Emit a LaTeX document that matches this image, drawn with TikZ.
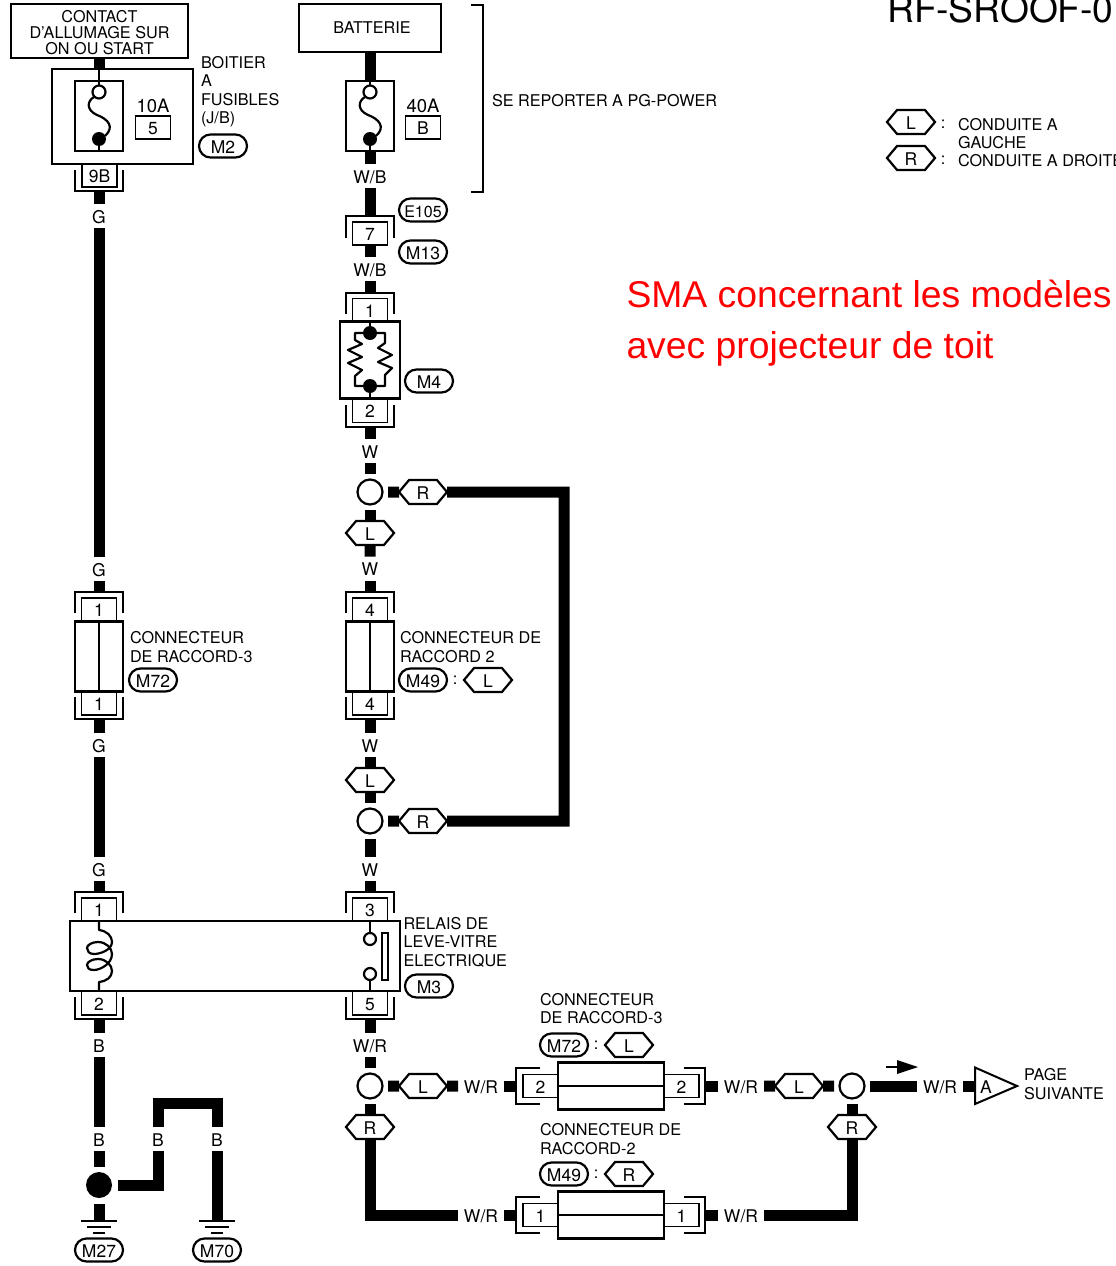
\documentclass[tikz,border=0pt]{standalone}
\usepackage{fontspec}
\setmainfont{TeX Gyre Heros}
\newfontfamily\redfont{Liberation Sans}
\usetikzlibrary{shapes.misc,shapes.symbols,shapes.geometric}
\newcommand{\lblfont}{\fontsize{16.2}{18.4}\selectfont}
\newcommand{\tagfont}{\fontsize{17.5}{18.4}\selectfont}
\tikzset{
  x=1pt,y=-1pt,
  every node/.style={font=\lblfont,inner sep=0pt,outer sep=0pt},
  wire/.style={line width=11pt,line cap=butt,line join=miter},
  thin wire/.style={line width=2.2pt,line join=round},
  outline/.style={line width=2pt,line join=miter},
  tagtext/.style={font=\tagfont,text height=14.2pt,text depth=0pt},
  wlabel/.style={tagtext,minimum width=46pt,minimum height=24pt},
  note/.style={align=left,anchor=west},
  pin/.style={tagtext,draw,line width=1.9pt,minimum width=35pt},
  box/.style={draw,line width=2.6pt,align=center},
  pill/.style={tagtext,rounded rectangle,draw,line width=2.2pt,minimum width=48pt,minimum height=23pt},
  hex/.style={tagtext,signal,signal to=east and west,signal pointer angle=100,draw,line width=2.2pt,minimum width=48pt,minimum height=24pt},
  splice/.style={circle,draw,line width=2.2pt,minimum size=25pt,outer sep=5.5pt},
  joint/.style={circle,fill=black,minimum size=14pt},
  term/.style={circle,draw,line width=2.2pt,fill=white,minimum size=13pt},
  redtext/.style={font=\redfont\fontsize{37.3}{51}\selectfont,text=red,anchor=base west},
}
% connector above a box whose top edge is at #3
\newcommand{\conntop}[4]{%
  \node[pin,minimum height=23pt] (#1) at (#2,#3-11.5) {#4};
  \draw[outline] (#2-24,#3-8) -- (#2-24,#3-29) -- (#2+24,#3-29) -- (#2+24,#3-8);
  \coordinate (#1-o) at (#2,#3-29);}
% connector below a box whose bottom edge is at #3
\newcommand{\connbot}[4]{%
  \node[pin,minimum height=24pt] (#1) at (#2,#3+12) {#4};
  \draw[outline] (#2-24,#3+6) -- (#2-24,#3+28) -- (#2+24,#3+28) -- (#2+24,#3+6);
  \coordinate (#1-o) at (#2,#3+28);}
% horizontal connector, left and right of a box
\newcommand{\connleft}[4]{%
  \node[pin,minimum height=23pt] (#1) at (#2-17.5,#3) {#4};
  \draw[outline] (#2-18,#3-18) -- (#2-42,#3-18) -- (#2-42,#3+18) -- (#2-18,#3+18);
  \coordinate (#1-o) at (#2-42,#3);}
\newcommand{\connright}[4]{%
  \node[pin,minimum height=23pt] (#1) at (#2+17.5,#3) {#4};
  \draw[outline] (#2+20,#3-18) -- (#2+41,#3-18) -- (#2+41,#3+18) -- (#2+20,#3+18);
  \coordinate (#1-o) at (#2+41,#3);}
% fuse element
\newcommand{\fuse}[2]{%
  \node[draw,line width=2.2pt,minimum width=48pt,minimum height=70pt] (#1) at (#2,116) {};
  \node[joint] (#1-d) at (#2,139) {};
  \draw[thin wire] (#1-d) -- (#1.south);
  \draw[thin wire] (#2-5,97) .. controls (#2-12,101) and (#2-13,110) .. (#2-2,115)
     .. controls (#2+9,119) and (#2+16,127) .. (#2+6,136);
  \node[term] (#1-o) at (#2,92) {};}
% ground symbol
\newcommand{\earth}[3]{%
  \coordinate (#1) at (#2,#3);
  \draw[outline] (#2-18,#3) -- (#2+18,#3) (#2-12,#3+6) -- (#2+12,#3+6) (#2-6,#3+11.5) -- (#2+6,#3+11.5);}
\begin{document}
\begin{tikzpicture}
\useasboundingbox (0,0) rectangle (1116,1266);
\clip (0,0) rectangle (1116,1266);

% ---------- left column ----------
\node[box,minimum width=177pt,minimum height=54pt] (contact) at (99.5,31) {};
\node[align=center,font=\fontsize{16.2}{16}\selectfont] (contacttxt) at (99.5,33) {CONTACT\\D'ALLUMAGE SUR\\ON OU START};
\node[draw,line width=2.6pt,minimum width=141pt,minimum height=95pt] (fb) at (122.5,116.5) {};
\draw[wire] (contact) -- (fb.north -| contact);
\fuse{f1}{99}
\draw[thin wire] (fb.north -| f1) -- (f1-o);
\node[tagtext,font=\fontsize{18.5}{20}\selectfont] (amp1) at (153,105) {10A};
\node[pin,minimum height=23pt] (fnum1) at (153,127.5) {5};
\node[note] (jb) at (201,91.5) {BOITIER\\A\\FUSIBLES\\(J/B)};
\node[pill] (m2) at (223,146) {M2};
\node[pin,minimum height=23pt] (p9b) at (99.5,175.5) {9B};
\draw[outline] (75,170) -- (75,191) -- (123,191) -- (123,170);
\coordinate (p9b-o) at (99,191);
\node[wlabel] (g1) at (99,216) {G};
\node[wlabel] (g2) at (99,569) {G};
\draw[wire] (p9b-o) -- (g1);
\draw[wire] (g1) -- (g2);

\node[draw,line width=2.2pt,minimum width=48pt,minimum height=70pt] (c1) at (99,656.5) {};
\draw[thin wire] (c1.north) -- (c1.south);
\conntop{c1t}{99}{621}{1}
\connbot{c1b}{99}{691}{1}
\draw[wire] (g2) -- (c1t-o);
\node[note] (c1txt) at (130,647) {CONNECTEUR\\DE RACCORD-3};
\node[pill] (m72a) at (153,680) {M72};
\node[wlabel] (g3) at (99,745) {G};
\node[wlabel] (g4) at (99,869) {G};
\draw[wire] (c1b-o) -- (g3);
\draw[wire] (g3) -- (g4);

% ---------- relay ----------
\node[draw,line width=2.6pt,minimum width=330pt,minimum height=70pt] (relay) at (235,956) {};
\conntop{r1}{99}{921}{1}
\connbot{r2}{99}{991}{2}
\conntop{r3}{370}{921}{3}
\connbot{r5}{370}{991}{5}
\draw[wire] (g4) -- (r1-o);
\draw[thin wire] (99,921) -- (99,930)
  .. controls (107,931) and (112,936) .. (112,942)
  .. controls (112,950) and (100,954) .. (94,954)
  .. controls (89,954) and (87,951) .. (87,948)
  .. controls (87,945) and (92,942) .. (98,942)
  .. controls (106,942) and (112,948) .. (112,954)
  .. controls (112,964) and (100,970) .. (94,970)
  .. controls (89,970) and (87,968) .. (87,965)
  .. controls (87,962) and (92,959) .. (98,959)
  .. controls (106,959) and (112,965) .. (112,971)
  .. controls (112,977) and (107,981) .. (99,982) -- (99,991);
\node[term,minimum size=12pt] (sw1) at (370,939) {};
\node[term,minimum size=12pt] (sw2) at (370,974) {};
\draw[thin wire] (r3) -- (sw1);
\draw[thin wire] (sw2) -- (r5);
\node[draw,line width=2.2pt,minimum width=6pt,minimum height=47pt] (blade) at (385,956.5) {};
\node[note] (rtxt) at (403.5,942) {RELAIS DE\\LEVE-VITRE\\ELECTRIQUE};
\node[pill] (m3) at (429,986) {M3};

% ---------- ground ----------
\node[wlabel] (b1) at (99,1045) {B};
\node[wlabel] (b2) at (99,1139) {B};
\node[wlabel] (b3) at (158,1139) {B};
\node[wlabel] (b4) at (217,1139) {B};
\node[circle,fill=black,minimum size=26pt,outer sep=5.5pt] (gj) at (99,1185) {};
\earth{e1}{99}{1221}
\earth{e2}{217}{1221}
\node[pill] (m27) at (99,1250) {M27};
\node[pill] (m70) at (217,1250) {M70};
\draw[wire] (r2-o) -- (b1);
\draw[wire] (b1) -- (b2);
\draw[wire] (b2) -- (gj);
\draw[wire] (gj) -- (e1);
\draw[wire] (gj.east) -- (b3 |- gj) -- (b3);
\draw[wire] (b3) -- (158,1103) -- (217,1103) -- (b4);
\draw[wire] (b4) -- (e2);

% ---------- right column ----------
\node[box,minimum width=142pt,minimum height=48pt] (batt) at (370,28) {\hspace*{4pt}BATTERIE};
\fuse{f2}{370}
\draw[wire] (batt) -- (f2);
\draw[thin wire] (f2.north) -- (f2-o);
\node[tagtext,font=\fontsize{18.5}{20}\selectfont] (amp2) at (423,105) {40A};
\node[pin,minimum height=23pt] (fnum2) at (423,127.5) {B};
\draw[outline] (471,5) -- (483,5) -- (483,192) -- (471,192);
\node[note] (pgtxt) at (492,100.5) {SE REPORTER A PG-POWER};
\node[wlabel] (wb1) at (370,176) {W/B};
\draw[wire] (f2) -- (wb1);

\node[pin,minimum height=23pt] (p7) at (370,233.5) {7};
\draw[outline] (346,238) -- (346,216) -- (394,216) -- (394,238);
\coordinate (p7-o) at (370,216);
\node[pill,font=\fontsize{16}{18}\selectfont] (e105) at (423,210) {E105};
\node[pill] (m13) at (423,252) {M13};
\node[wlabel] (wb2) at (370,269) {W/B};
\draw[wire] (wb1) -- (p7-o);
\draw[wire] (p7) -- (wb2);

% resistor block
\node[draw,line width=2.2pt,minimum width=60pt,minimum height=77pt] (res) at (370,360) {};
\conntop{m4t}{370}{321.5}{1}
\connbot{m4b}{370}{398.5}{2}
\draw[wire] (wb2) -- (m4t-o);
\node[joint] (rd1) at (370,333) {};
\node[joint] (rd2) at (370,386) {};
\draw[thin wire] (res.north) -- (rd1);
\draw[thin wire] (rd2) -- (res.south);
\draw[thin wire] (rd1) -- (355,333) -- (355,340) -- (362,344) -- (348,350) -- (362,357) -- (348,363) -- (362,370) -- (355,376) -- (355,386) -- (rd2);
\draw[thin wire] (rd1) -- (385,333) -- (385,343) -- (378,348) -- (392,355) -- (378,362) -- (392,368) -- (385,375) -- (385,386) -- (rd2);
\node[pill] (m4) at (429,381) {M4};

\node[wlabel] (w1) at (370,451) {W};
\draw[wire] (m4b-o) -- (w1);
\node[splice] (s1) at (370,492) {};
\draw[wire] (w1) -- (s1);
\node[hex] (hr1) at (423,492) {R};
\draw[wire] (s1) -- (hr1);
\node[hex] (hl1) at (370,533) {L};
\draw[wire] (s1) -- (hl1);
\node[wlabel] (w2) at (370,568.5) {W};
\draw[wire] (hl1) -- (w2);

\node[draw,line width=2.2pt,minimum width=48pt,minimum height=70pt] (c2) at (370,656.5) {};
\draw[thin wire] (c2.north) -- (c2.south);
\conntop{c2t}{370}{621}{4}
\connbot{c2b}{370}{691}{4}
\draw[wire] (w2) -- (c2t-o);
\node[note] (c2txt) at (400,647) {CONNECTEUR DE\\RACCORD 2};
\node[pill] (m49a) at (423,680) {M49};
\node[anchor=center] (c2col) at (455,680) {:};
\node[hex] (hl2) at (488,680) {L};
\node[wlabel] (w3) at (370,745) {W};
\draw[wire] (c2b-o) -- (w3);
\node[hex] (hl3) at (370,780) {L};
\draw[wire] (w3) -- (hl3);
\node[splice] (s2) at (370,821) {};
\draw[wire] (hl3) -- (s2);
\node[hex] (hr2) at (423,821) {R};
\draw[wire] (s2) -- (hr2);
\draw[wire] (hr1) -- (564,492) -- (564,821) -- (hr2);
\node[wlabel] (w4) at (370,869) {W};
\draw[wire] (s2) -- (w4);
\draw[wire] (w4) -- (r3-o);

% ---------- bottom right ----------
\node[wlabel] (wr1) at (370,1045) {W/R};
\draw[wire] (r5-o) -- (wr1);
\node[splice] (s3) at (370,1086) {};
\draw[wire] (wr1) -- (s3);
\node[hex] (hl4) at (423,1086) {L};
\draw[wire] (s3) -- (hl4);
\node[wlabel] (wr2) at (481,1086) {W/R};
\draw[wire] (hl4) -- (wr2);

\node[draw,line width=2.2pt,minimum width=106pt,minimum height=47pt] (c3) at (611,1086) {};
\draw[thin wire] (c3.west) -- (c3.east);
\connleft{c3l}{558}{1086}{2}
\connright{c3r}{664}{1086}{2}
\draw[wire] (wr2) -- (c3l-o);
\node[note] (c3txt) at (540,1008.5) {CONNECTEUR\\DE RACCORD-3};
\node[pill] (m72b) at (564,1045) {M72};
\node[anchor=center] (c3col) at (596,1045) {:};
\node[hex] (hl5) at (629,1045) {L};
\node[wlabel] (wr3) at (741,1086) {W/R};
\draw[wire] (c3r-o) -- (wr3);
\node[hex] (hl6) at (799,1086) {L};
\draw[wire] (wr3) -- (hl6);
\node[splice] (s4) at (852,1086) {};
\draw[wire] (hl6) -- (s4);
\node[wlabel] (wr4) at (940,1086) {W/R};
\draw[wire] (s4) -- (wr4);
\coordinate (pa) at (975,1086);
\draw[wire] (wr4) -- (pa);
\draw[outline,fill=white] (pa) ++(0,-18.5) -- (1017,1086) -- (975,1104) -- cycle;
\node[tagtext] (pal) at (986,1086) {A};
\node[note] (psuiv) at (1024,1084) {PAGE\\SUIVANTE};
\coordinate (ar1) at (886,1067);
\coordinate (ar2) at (918,1067);
\draw[line width=2.2pt] (ar1) -- (900,1067);
\fill (897,1060) -- (ar2) -- (897,1074) -- cycle;

\node[hex] (hr3) at (370,1127) {R};
\draw[wire] (s3) -- (hr3);
\node[hex] (hr4) at (852,1127) {R};
\draw[wire] (s4) -- (hr4);
\node[wlabel] (wr5) at (481,1215) {W/R};
\node[wlabel] (wr6) at (741,1215) {W/R};
\draw[wire] (hr3) -- (hr3 |- wr5) -- (wr5);
\draw[wire] (hr4) -- (hr4 |- wr6) -- (wr6);

\node[draw,line width=2.2pt,minimum width=106pt,minimum height=47pt] (c4) at (611,1215) {};
\draw[thin wire] (c4.west) -- (c4.east);
\connleft{c4l}{558}{1215}{1}
\connright{c4r}{664}{1215}{1}
\draw[wire] (wr5) -- (c4l-o);
\draw[wire] (c4r-o) -- (wr6);
\node[note] (c4txt) at (540,1139) {CONNECTEUR DE\\RACCORD-2};
\node[pill] (m49b) at (564,1174) {M49};
\node[anchor=center] (c4col) at (596,1174) {:};
\node[hex] (hr5) at (629,1174) {R};

% ---------- legend and notes ----------
\node[anchor=base west,font=\fontsize{37.2}{40}\selectfont] (title) at (887.5,22) {RF-SROOF-0};
\node[hex] (lgl) at (911,122) {L};
\node[hex] (lgr) at (911,158) {R};
\node[anchor=center] (lgc1) at (943,124) {:};
\node[anchor=center] (lgc2) at (943,160) {:};
\node[note] (lgt1) at (958,133.5) {CONDUITE A\\GAUCHE};
\node[note] (lgt2) at (958,160.5) {CONDUITE A DROITE};
\node[redtext] (sma1) at (626.5,307) {SMA concernant les modèles};
\node[redtext] (sma2) at (626.5,358) {avec projecteur de toit};
\end{tikzpicture}
\end{document}
